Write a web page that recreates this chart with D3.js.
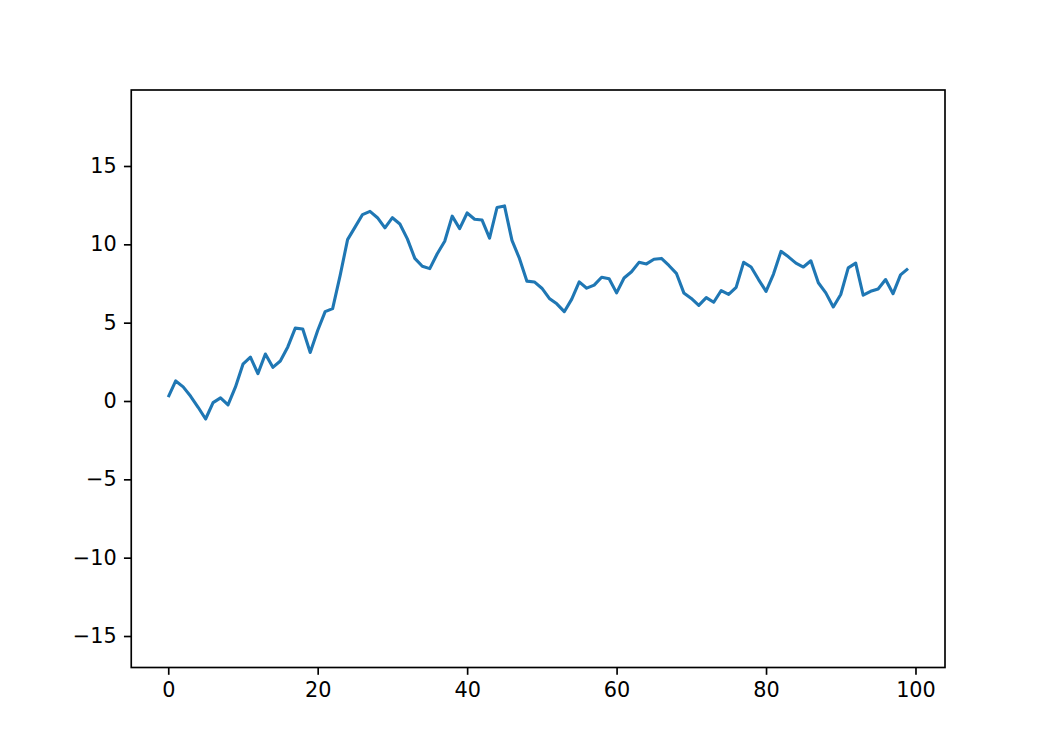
<!DOCTYPE html>
<html>
<head>
<meta charset="utf-8">
<script src="https://cdn.jsdelivr.net/npm/d3@7"></script>
<style>
  html, body { margin: 0; padding: 0; background: #fff; }
  svg { display: block; }
  text { font-family: "DejaVu Sans", sans-serif; }
</style>
</head>
<body>
<svg id="chart" width="1050" height="750"></svg>
<script>
const xValues = d3.range(100);
const yValues = [
  0.25, 1.28, 0.9, 0.3, -0.4, -1.15, -0.1, 0.2, -0.25, 0.9,
  2.35, 2.8, 1.75, 3.0, 2.15, 2.55, 3.45, 4.65, 4.6, 3.1,
  4.5, 5.7, 5.9, 8.0, 10.3, 11.1, 11.9, 12.1, 11.7, 11.05,
  11.7, 11.3, 10.35, 9.1, 8.6, 8.45, 9.4, 10.2, 11.8, 11.0,
  12.0, 11.6, 11.55, 10.4, 12.35, 12.45, 10.25, 9.1, 7.65, 7.6,
  7.2, 6.55, 6.2, 5.7, 6.5, 7.6, 7.2, 7.4, 7.9, 7.8,
  6.9, 7.85, 8.25, 8.85, 8.75, 9.05, 9.1, 8.65, 8.15, 6.9,
  6.55, 6.1, 6.6, 6.3, 7.05, 6.8, 7.25, 8.85, 8.55, 7.75,
  7.0, 8.1, 9.55, 9.2, 8.8, 8.55, 8.95, 7.55, 6.9, 6.0,
  6.8, 8.5, 8.8, 6.75, 7.0, 7.15, 7.75, 6.85, 8.05, 8.45
];
const xTicks = [0, 20, 40, 60, 80, 100];
const yTicks = [-15, -10, -5, 0, 5, 10, 15];
const xDomain = [-4.95, 103.95];
const yDomain = [-17.01, 19.85];

(function () {
  const mLeft = 131.25, mRight = 945, mTop = 90, mBottom = 667.5;
  const fontSize = 20.8;
  const tickLen = 7.3, tickPad = 7.3;

  const svg = d3.select("#chart");
  const x = d3.scaleLinear().domain(xDomain).range([mLeft, mRight]);
  const y = d3.scaleLinear().domain(yDomain).range([mBottom, mTop]);

  const line = d3.line().x((d, i) => x(xValues[i])).y(d => y(d));

  svg.append("path")
    .datum(yValues)
    .attr("fill", "none")
    .attr("stroke", "#1f77b4")
    .attr("stroke-width", 3.1)
    .attr("stroke-linejoin", "round")
    .attr("stroke-linecap", "butt")
    .attr("d", line);

  const xAxis = d3.axisBottom(x).tickValues(xTicks).tickSize(tickLen).tickPadding(tickPad).tickFormat(d3.format("d"));
  const yAxis = d3.axisLeft(y).tickValues(yTicks).tickSize(tickLen).tickPadding(tickPad).tickFormat(d3.format("d"));

  const gx = svg.append("g").attr("transform", `translate(0,${mBottom})`).call(xAxis);
  const gy = svg.append("g").attr("transform", `translate(${mLeft},0)`).call(yAxis);

  [gx, gy].forEach(g => {
    g.select(".domain").remove();
    g.selectAll(".tick line").attr("stroke", "#000").attr("stroke-width", 1.67);
    g.selectAll(".tick text")
      .attr("fill", "#000")
      .style("font-size", fontSize + "px")
      .style("font-family", "'DejaVu Sans', sans-serif");
  });

  svg.append("rect")
    .attr("x", mLeft).attr("y", mTop)
    .attr("width", mRight - mLeft).attr("height", mBottom - mTop)
    .attr("fill", "none")
    .attr("stroke", "#000")
    .attr("stroke-width", 1.67);
})();
</script>
</body>
</html>
